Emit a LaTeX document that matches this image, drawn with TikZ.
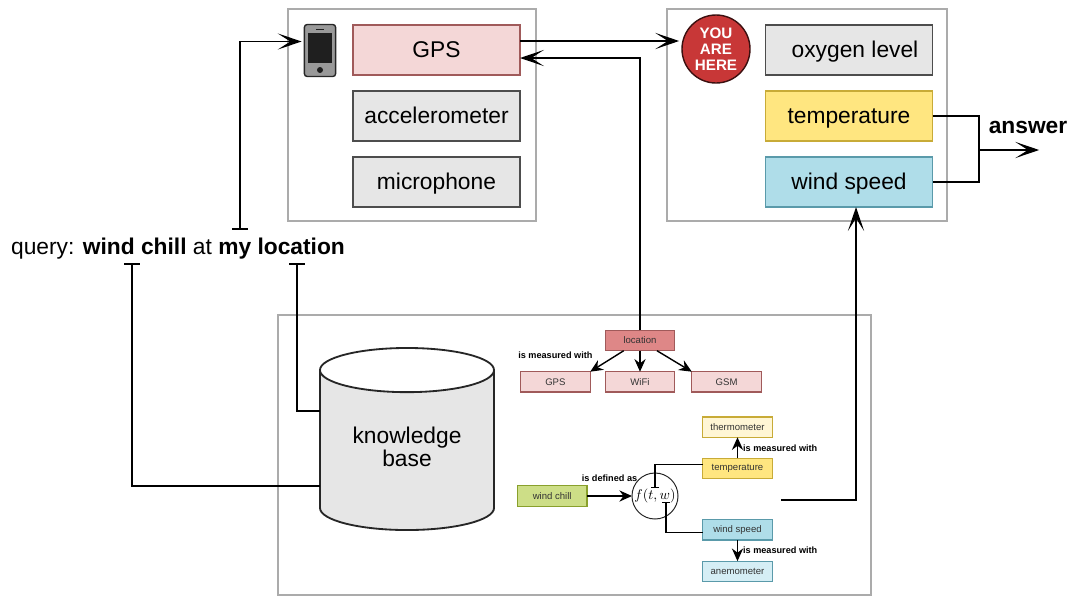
\documentclass[tikz,border=0pt]{standalone}
\usepackage{fontspec}
\setmainfont{Liberation Sans}
\usetikzlibrary{arrows.meta}
\usetikzlibrary{positioning}
\usetikzlibrary{shapes.geometric}

\definecolor{framegray}{HTML}{ABABAB}
\definecolor{boxgray}{HTML}{E6E6E6}
\definecolor{linegray}{HTML}{4D4D4D}
\definecolor{gpspink}{HTML}{F4D7D7}
\definecolor{gpsline}{HTML}{A05A5A}
\definecolor{locred}{HTML}{DE8787}
\definecolor{tempyellow}{HTML}{FFE680}
\definecolor{templine}{HTML}{C8AB37}
\definecolor{palecream}{HTML}{FFF6D5}
\definecolor{windblue}{HTML}{AFDDE9}
\definecolor{windline}{HTML}{5A9AAA}
\definecolor{paleblue}{HTML}{D5EEF5}
\definecolor{chillgreen}{HTML}{CDDE87}
\definecolor{chillline}{HTML}{89A02C}
\definecolor{herered}{HTML}{C83737}

\begin{document}
\begin{tikzpicture}[x=0.025cm,y=-0.025cm,outer sep=0pt,
  >={Stealth[length=17pt,width=11.5pt,inset=9pt]},shorten >=2pt,
  frame node/.style={rectangle,draw=framegray,line width=1.8pt,fill=none},
  main node/.style={rectangle,draw=linegray,line width=0.8pt,fill=boxgray,minimum width=4.175cm,minimum height=1.25cm,
    text height=10.4pt,text depth=0pt,font=\fontsize{16.2}{18}\selectfont},
  small node/.style={rectangle,draw=gpsline,line width=0.9pt,fill=gpspink,minimum width=1.74cm,minimum height=0.51cm,inner sep=0pt,
    text=black!80,font=\fontsize{6.8}{8}\selectfont},
  edge label/.style={font=\fontsize{6.5}{8}\selectfont\bfseries,inner sep=1pt},
  link/.style={draw=black,line width=1.4pt},
  small link/.style={draw=black,line width=1pt,shorten >=0pt,>={Stealth[length=9pt,width=8pt,inset=3pt]}},
  bar link/.style={draw=black,line width=1.2pt,shorten >=0pt},
  tiny bar/.style={draw=black,line width=0.8pt,shorten >=0pt,-{Bar[width=6pt]}}]

  \node[frame node,minimum width=6.2cm,minimum height=5.3cm] (SENS) at (412,115) {};
  \node[frame node,minimum width=7cm,minimum height=5.3cm] (ENV) at (807,115) {};
  \node[frame node,minimum width=14.825cm,minimum height=7cm] (KNOW) at (574.5,455) {};

  \node[main node,draw=gpsline,fill=gpspink] (GPS) at (436.5,50) {GPS};
  \node[main node] (ACC) [below = 0.4cm of GPS] {accelerometer};
  \node[main node] (MIC) [below = 0.4cm of ACC] {microphone};

  % phone icon
  \node[rectangle,rounded corners=2pt,draw=black!85,line width=1pt,fill=black!40,minimum width=0.78cm,minimum height=1.3cm] (PHONE) at (320,50.5) {};
  \node[rectangle,fill=black!88,minimum width=0.6cm,minimum height=0.75cm,inner sep=0pt] (SCR) at (320,48) {};
  \node[rectangle,fill=black!88,minimum width=0.22cm,minimum height=0.03cm,inner sep=0pt] (SPK) [above = 0.08cm of SCR] {};
  \node[circle,fill=black!88,minimum size=0.15cm,inner sep=0pt] (BTN) [below = 0.1cm of SCR] {};

  \node[circle,draw=black!70!herered,line width=1pt,fill=herered,minimum size=1.7cm,inner sep=0pt,text=white,align=center,
    font=\fontsize{10.8}{11.4}\selectfont\bfseries] (HERE) at (716,49) {YOU\\ARE\\HERE};
  \node[main node] (OXY) at (849,50) {\hspace{0.3cm}oxygen level};
  \node[main node,draw=templine,fill=tempyellow] (TMP) [below = 0.4cm of OXY] {temperature};
  \node[main node,draw=windline,fill=windblue] (WND) [below = 0.4cm of TMP] {wind speed};

  \node[font=\fontsize{16.2}{18}\selectfont,inner sep=0pt,minimum height=0.825cm,text height=12pt,text depth=0pt] (QRY) at (178,246.5) {query: \textbf{wind chill} at \textbf{my location}};
  \node[font=\fontsize{16.2}{18}\selectfont\bfseries,inner sep=0pt] (ANS) at (1028,127) {answer};

  \node[cylinder,shape border rotate=90,aspect=0.37,anchor=shape center,draw=black!85,line width=1.3pt,cylinder uses custom fill,
    cylinder body fill=boxgray,cylinder end fill=white,minimum width=4.35cm,minimum height=4.55cm,
    text width=2.75cm,text height=0.7cm,text depth=0.3cm] (KB) at (407,439) {};
  \node[align=center,inner sep=0pt,font=\fontsize{16.2}{16.5}\selectfont] (KBT) at (407,447) {knowledge\\base};

  \node[small node,fill=locred] (LOC) at (640,340.5) {location};
  \node[small node] (WIFI) [below = 0.525cm of LOC] {WiFi};
  \node[small node] (GPSM) [left = 0.375cm of WIFI] {GPS};
  \node[small node] (GSM) [right = 0.425cm of WIFI] {GSM};
  \node[edge label] (ISM) [above = 0.3cm of GPSM] {is measured with};

  \node[small node,draw=templine,fill=tempyellow] (TMPM) at (737.5,468.5) {temperature};
  \node[small node,draw=templine,fill=palecream] (THM) [above = 0.525cm of TMPM] {thermometer};
  \node[small node,draw=windline,fill=windblue] (WNDM) [below = 1.025cm of TMPM] {wind speed};
  \node[small node,draw=windline,fill=paleblue] (ANM) [below = 0.525cm of WNDM] {anemometer};
  \node[circle,draw=black!85,line width=0.7pt,minimum size=1.15cm,inner sep=-5pt,font=\fontsize{10}{12}\selectfont] (FN) at (655,496) {$f(t,w)$};
  \node[small node,draw=chillline,fill=chillgreen] (WCH) [left = 1.125cm of FN] {wind chill};

  \coordinate (KBOUT) at (781,500);
  \coordinate (JOIN) at (979,150);
  \coordinate (ANSEND) at (1042,150);

  \draw[link,->] ([yshift=0.225cm]GPS.east) -- ([yshift=0.225cm]GPS.east -| HERE.west);
  \draw[link,->,shorten >=0pt] (LOC.north) |- ([yshift=-0.2cm]GPS.east);
  \draw[link,->,shorten >=0pt] (KBOUT) -| ([xshift=0.175cm]WND.south);
  \draw[link,shorten >=0pt] (TMP.east) -| (JOIN) |- (WND.east);
  \draw[link,->] (JOIN) -- (ANSEND);

  \draw[bar link,{Bar[width=11pt]}->,shorten >=2pt] ([xshift=1.55cm]QRY.north) |- ([yshift=0.225cm]PHONE.west);
  \draw[bar link,{Bar[width=11pt]}-] ([xshift=-1.15cm]QRY.south) |- ([yshift=-0.8cm]KB.west);
  \draw[bar link,{Bar[width=11pt]}-] ([xshift=2.975cm]QRY.south) |- ([yshift=1.075cm]KB.west);

  \path[small link,->]
    (LOC) edge (GPSM.north east)
          edge (WIFI)
          edge (GSM.north west)
    (TMPM) edge node [edge label,right=3pt] (ISMT) {is measured with} (THM)
    (WNDM) edge node [edge label,right=3pt] (ISMW) {is measured with} (ANM)
    (WCH) edge node [edge label,above=9pt] (ISD) {is defined as} (FN);

  \draw[tiny bar] ([yshift=0.09cm]TMPM.west) -| ([yshift=0.2cm]FN.center);
  \draw[tiny bar] ([yshift=-0.075cm]WNDM.west) -| ([xshift=0.275cm,yshift=-0.15cm]FN.center);
\useasboundingbox (0,0) rectangle (1072,596);
\end{tikzpicture}
\end{document}
